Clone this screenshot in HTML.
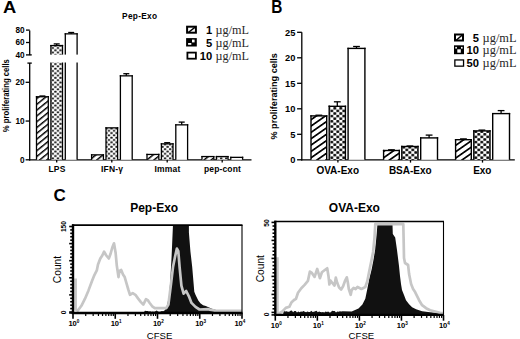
<!DOCTYPE html><html><head><meta charset="utf-8"><style>html,body{margin:0;padding:0;background:#fff;overflow:hidden;}svg{display:block;}</style></head><body>
<svg width="520" height="339" viewBox="0 0 520 339">
<defs>
<pattern id="hA" patternUnits="userSpaceOnUse" width="4.5" height="4.5" patternTransform="rotate(-39)"><rect width="4.5" height="4.5" fill="#fff"/><rect x="0" y="0" width="4.5" height="1.45" fill="#000"/></pattern>
<pattern id="hB" patternUnits="userSpaceOnUse" width="5.2" height="5.2" patternTransform="rotate(-35)"><rect width="5.2" height="5.2" fill="#fff"/><rect x="0" y="0" width="5.2" height="1.7" fill="#000"/></pattern>
<pattern id="ck" patternUnits="userSpaceOnUse" width="5.1" height="4.6" x="0.6" y="0.8"><rect width="5.1" height="4.6" fill="#fff"/><rect x="0.1" y="0.15" width="2.3" height="2.0" rx="0.6" fill="#111"/><rect x="2.65" y="2.45" width="2.3" height="2.0" rx="0.6" fill="#111"/></pattern>
<pattern id="ckB" patternUnits="userSpaceOnUse" width="6.0" height="5.2" x="0.3" y="0.4"><rect width="6.0" height="5.2" fill="#fff"/><rect x="0.05" y="0.1" width="2.9" height="2.45" rx="0.8" fill="#0a0a0a"/><rect x="3.05" y="2.7" width="2.9" height="2.45" rx="0.8" fill="#0a0a0a"/></pattern>
</defs>
<rect width="520" height="339" fill="#fff"/>
<text transform="translate(2.9,13.1) scale(1.08,1)" font-family='"Liberation Sans", sans-serif' font-size="17" font-weight="bold">A</text>
<text x="139.70" y="19.40" font-family='"Liberation Sans", sans-serif' font-size="8.3" font-weight="bold" text-anchor="middle" letter-spacing="0.3">Pep-Exo</text>
<line x1="29.70" y1="30.40" x2="29.70" y2="55.20" stroke="#000" stroke-width="1.3"/>
<line x1="29.70" y1="63.10" x2="29.70" y2="160.40" stroke="#000" stroke-width="1.3"/>
<line x1="26.00" y1="30.10" x2="29.70" y2="30.10" stroke="#000" stroke-width="1.3"/>
<text x="24.60" y="33.00" font-family='"Liberation Sans", sans-serif' font-size="8.2" font-weight="bold" text-anchor="end" >80</text>
<line x1="26.00" y1="42.50" x2="29.70" y2="42.50" stroke="#000" stroke-width="1.3"/>
<text x="24.60" y="45.40" font-family='"Liberation Sans", sans-serif' font-size="8.2" font-weight="bold" text-anchor="end" >60</text>
<line x1="26.00" y1="54.90" x2="29.70" y2="54.90" stroke="#000" stroke-width="1.3"/>
<text x="24.60" y="57.80" font-family='"Liberation Sans", sans-serif' font-size="8.2" font-weight="bold" text-anchor="end" >40</text>
<line x1="29.70" y1="54.90" x2="31.80" y2="54.90" stroke="#000" stroke-width="1.3"/>
<line x1="27.40" y1="63.10" x2="31.80" y2="63.10" stroke="#000" stroke-width="1.3"/>
<line x1="25.60" y1="82.30" x2="29.70" y2="82.30" stroke="#000" stroke-width="1.3"/>
<text x="24.60" y="85.20" font-family='"Liberation Sans", sans-serif' font-size="8.2" font-weight="bold" text-anchor="end" >20</text>
<line x1="25.60" y1="121.05" x2="29.70" y2="121.05" stroke="#000" stroke-width="1.3"/>
<text x="24.60" y="123.95" font-family='"Liberation Sans", sans-serif' font-size="8.2" font-weight="bold" text-anchor="end" >10</text>
<line x1="25.60" y1="159.80" x2="29.70" y2="159.80" stroke="#000" stroke-width="1.3"/>
<text x="24.60" y="162.70" font-family='"Liberation Sans", sans-serif' font-size="8.2" font-weight="bold" text-anchor="end" >0</text>
<line x1="29.10" y1="159.80" x2="251.50" y2="159.80" stroke="#000" stroke-width="1.3"/>
<line x1="56.70" y1="159.80" x2="56.70" y2="162.60" stroke="#000" stroke-width="1.3"/>
<text x="57.00" y="171.70" font-family='"Liberation Sans", sans-serif' font-size="8.5" font-weight="bold" text-anchor="middle" letter-spacing="0.15">LPS</text>
<rect x="36.50" y="96.75" width="11.80" height="63.05" fill="url(#hA)" stroke="none"/>
<line x1="36.50" y1="96.10" x2="36.50" y2="159.80" stroke="#000" stroke-width="1.3"/>
<line x1="48.30" y1="96.10" x2="48.30" y2="159.80" stroke="#000" stroke-width="1.3"/>
<line x1="35.85" y1="96.75" x2="48.95" y2="96.75" stroke="#000" stroke-width="1.3"/>
<line x1="42.40" y1="96.00" x2="42.40" y2="96.75" stroke="#000" stroke-width="1.3"/>
<line x1="39.40" y1="96.00" x2="45.40" y2="96.00" stroke="#000" stroke-width="1.3"/>
<rect x="50.90" y="45.55" width="11.60" height="114.25" fill="url(#ck)" stroke="none"/>
<line x1="50.90" y1="44.90" x2="50.90" y2="159.80" stroke="#000" stroke-width="1.3"/>
<line x1="62.50" y1="44.90" x2="62.50" y2="159.80" stroke="#000" stroke-width="1.3"/>
<line x1="50.25" y1="45.55" x2="63.15" y2="45.55" stroke="#000" stroke-width="1.3"/>
<line x1="56.70" y1="43.90" x2="56.70" y2="45.55" stroke="#000" stroke-width="1.3"/>
<line x1="53.70" y1="43.90" x2="59.70" y2="43.90" stroke="#000" stroke-width="1.3"/>
<rect x="65.30" y="33.85" width="11.80" height="125.95" fill="#fff" stroke="none"/>
<line x1="65.30" y1="33.20" x2="65.30" y2="159.80" stroke="#000" stroke-width="1.3"/>
<line x1="77.10" y1="33.20" x2="77.10" y2="159.80" stroke="#000" stroke-width="1.3"/>
<line x1="64.65" y1="33.85" x2="77.75" y2="33.85" stroke="#000" stroke-width="1.3"/>
<line x1="71.20" y1="32.50" x2="71.20" y2="33.85" stroke="#000" stroke-width="1.3"/>
<line x1="68.20" y1="32.50" x2="74.20" y2="32.50" stroke="#000" stroke-width="1.3"/>
<line x1="111.80" y1="159.80" x2="111.80" y2="162.60" stroke="#000" stroke-width="1.3"/>
<text x="112.10" y="171.70" font-family='"Liberation Sans", sans-serif' font-size="8.5" font-weight="bold" text-anchor="middle" letter-spacing="0.15">IFN-&#947;</text>
<rect x="91.60" y="154.85" width="11.80" height="4.95" fill="url(#hA)" stroke="none"/>
<line x1="91.60" y1="154.20" x2="91.60" y2="159.80" stroke="#000" stroke-width="1.3"/>
<line x1="103.40" y1="154.20" x2="103.40" y2="159.80" stroke="#000" stroke-width="1.3"/>
<line x1="90.95" y1="154.85" x2="104.05" y2="154.85" stroke="#000" stroke-width="1.3"/>
<rect x="106.00" y="127.85" width="11.60" height="31.95" fill="url(#ck)" stroke="none"/>
<line x1="106.00" y1="127.20" x2="106.00" y2="159.80" stroke="#000" stroke-width="1.3"/>
<line x1="117.60" y1="127.20" x2="117.60" y2="159.80" stroke="#000" stroke-width="1.3"/>
<line x1="105.35" y1="127.85" x2="118.25" y2="127.85" stroke="#000" stroke-width="1.3"/>
<rect x="120.40" y="75.85" width="11.80" height="83.95" fill="#fff" stroke="none"/>
<line x1="120.40" y1="75.20" x2="120.40" y2="159.80" stroke="#000" stroke-width="1.3"/>
<line x1="132.20" y1="75.20" x2="132.20" y2="159.80" stroke="#000" stroke-width="1.3"/>
<line x1="119.75" y1="75.85" x2="132.85" y2="75.85" stroke="#000" stroke-width="1.3"/>
<line x1="126.30" y1="73.70" x2="126.30" y2="75.85" stroke="#000" stroke-width="1.3"/>
<line x1="123.30" y1="73.70" x2="129.30" y2="73.70" stroke="#000" stroke-width="1.3"/>
<line x1="167.20" y1="159.80" x2="167.20" y2="162.60" stroke="#000" stroke-width="1.3"/>
<text x="167.50" y="171.70" font-family='"Liberation Sans", sans-serif' font-size="8.5" font-weight="bold" text-anchor="middle" letter-spacing="0.15">Immat</text>
<rect x="147.00" y="154.45" width="11.80" height="5.35" fill="url(#hA)" stroke="none"/>
<line x1="147.00" y1="153.80" x2="147.00" y2="159.80" stroke="#000" stroke-width="1.3"/>
<line x1="158.80" y1="153.80" x2="158.80" y2="159.80" stroke="#000" stroke-width="1.3"/>
<line x1="146.35" y1="154.45" x2="159.45" y2="154.45" stroke="#000" stroke-width="1.3"/>
<rect x="161.40" y="143.85" width="11.60" height="15.95" fill="url(#ck)" stroke="none"/>
<line x1="161.40" y1="143.20" x2="161.40" y2="159.80" stroke="#000" stroke-width="1.3"/>
<line x1="173.00" y1="143.20" x2="173.00" y2="159.80" stroke="#000" stroke-width="1.3"/>
<line x1="160.75" y1="143.85" x2="173.65" y2="143.85" stroke="#000" stroke-width="1.3"/>
<line x1="167.20" y1="142.70" x2="167.20" y2="143.85" stroke="#000" stroke-width="1.3"/>
<line x1="164.20" y1="142.70" x2="170.20" y2="142.70" stroke="#000" stroke-width="1.3"/>
<rect x="175.80" y="124.85" width="11.80" height="34.95" fill="#fff" stroke="none"/>
<line x1="175.80" y1="124.20" x2="175.80" y2="159.80" stroke="#000" stroke-width="1.3"/>
<line x1="187.60" y1="124.20" x2="187.60" y2="159.80" stroke="#000" stroke-width="1.3"/>
<line x1="175.15" y1="124.85" x2="188.25" y2="124.85" stroke="#000" stroke-width="1.3"/>
<line x1="181.70" y1="122.10" x2="181.70" y2="124.85" stroke="#000" stroke-width="1.3"/>
<line x1="178.70" y1="122.10" x2="184.70" y2="122.10" stroke="#000" stroke-width="1.3"/>
<line x1="222.20" y1="159.80" x2="222.20" y2="162.60" stroke="#000" stroke-width="1.3"/>
<text x="222.50" y="171.70" font-family='"Liberation Sans", sans-serif' font-size="8.5" font-weight="bold" text-anchor="middle" letter-spacing="0.15">pep-cont</text>
<rect x="202.00" y="156.55" width="11.80" height="3.25" fill="url(#hA)" stroke="none"/>
<line x1="202.00" y1="155.90" x2="202.00" y2="159.80" stroke="#000" stroke-width="1.3"/>
<line x1="213.80" y1="155.90" x2="213.80" y2="159.80" stroke="#000" stroke-width="1.3"/>
<line x1="201.35" y1="156.55" x2="214.45" y2="156.55" stroke="#000" stroke-width="1.3"/>
<rect x="216.40" y="156.55" width="11.60" height="3.25" fill="url(#ck)" stroke="none"/>
<line x1="216.40" y1="155.90" x2="216.40" y2="159.80" stroke="#000" stroke-width="1.3"/>
<line x1="228.00" y1="155.90" x2="228.00" y2="159.80" stroke="#000" stroke-width="1.3"/>
<line x1="215.75" y1="156.55" x2="228.65" y2="156.55" stroke="#000" stroke-width="1.3"/>
<rect x="230.80" y="157.35" width="11.80" height="2.45" fill="#fff" stroke="none"/>
<line x1="230.80" y1="156.70" x2="230.80" y2="159.80" stroke="#000" stroke-width="1.3"/>
<line x1="242.60" y1="156.70" x2="242.60" y2="159.80" stroke="#000" stroke-width="1.3"/>
<line x1="230.15" y1="157.35" x2="243.25" y2="157.35" stroke="#000" stroke-width="1.3"/>
<rect x="31.9" y="54.6" width="48" height="7.9" fill="#fff"/>
<pattern id="lgH" patternUnits="userSpaceOnUse" width="20" height="20"><rect width="20" height="20" fill="#fff"/></pattern>
<rect x="187.10" y="26.70" width="8.80" height="6.00" fill="#fff" stroke="#000" stroke-width="2"/>
<line x1="188.30" y1="32.50" x2="195.20" y2="27.20" stroke="#000" stroke-width="1.5"/>
<rect x="186.10" y="38.10" width="10.70" height="8.40" fill="#000"/>
<rect x="192.00" y="39.60" width="2.60" height="2.80" fill="#fff"/>
<rect x="188.10" y="43.00" width="3.20" height="1.80" fill="#fff"/>
<rect x="187.40" y="52.60" width="8.50" height="6.10" fill="#fff" stroke="#000" stroke-width="1.8"/>
<text x="212.20" y="34.10" font-family='"Liberation Sans", sans-serif' font-size="11.2" font-weight="bold" text-anchor="end" >1</text>
<text x="215.60" y="34.20" font-family='"Liberation Serif", serif' font-size="12.2" font-weight="normal" text-anchor="start" fill="#262626">&#181;g/mL</text>
<text x="212.20" y="46.60" font-family='"Liberation Sans", sans-serif' font-size="11.2" font-weight="bold" text-anchor="end" >5</text>
<text x="215.60" y="46.70" font-family='"Liberation Serif", serif' font-size="12.2" font-weight="normal" text-anchor="start" fill="#262626">&#181;g/mL</text>
<text x="212.20" y="59.80" font-family='"Liberation Sans", sans-serif' font-size="11.2" font-weight="bold" text-anchor="end" >10</text>
<text x="215.60" y="59.90" font-family='"Liberation Serif", serif' font-size="12.2" font-weight="normal" text-anchor="start" fill="#262626">&#181;g/mL</text>
<text transform="translate(271.3,12.5) scale(0.88,1)" font-family='"Liberation Sans", sans-serif' font-size="17.5" font-weight="bold">B</text>
<line x1="301.80" y1="32.20" x2="301.80" y2="160.40" stroke="#000" stroke-width="1.3"/>
<line x1="297.10" y1="32.30" x2="301.80" y2="32.30" stroke="#000" stroke-width="1.3"/>
<text x="295.40" y="35.50" font-family='"Liberation Sans", sans-serif' font-size="9.3" font-weight="bold" text-anchor="end" >25</text>
<line x1="297.10" y1="57.80" x2="301.80" y2="57.80" stroke="#000" stroke-width="1.3"/>
<text x="295.40" y="61.00" font-family='"Liberation Sans", sans-serif' font-size="9.3" font-weight="bold" text-anchor="end" >20</text>
<line x1="297.10" y1="83.30" x2="301.80" y2="83.30" stroke="#000" stroke-width="1.3"/>
<text x="295.40" y="86.50" font-family='"Liberation Sans", sans-serif' font-size="9.3" font-weight="bold" text-anchor="end" >15</text>
<line x1="297.10" y1="108.80" x2="301.80" y2="108.80" stroke="#000" stroke-width="1.3"/>
<text x="295.40" y="112.00" font-family='"Liberation Sans", sans-serif' font-size="9.3" font-weight="bold" text-anchor="end" >10</text>
<line x1="297.10" y1="134.30" x2="301.80" y2="134.30" stroke="#000" stroke-width="1.3"/>
<text x="295.40" y="137.50" font-family='"Liberation Sans", sans-serif' font-size="9.3" font-weight="bold" text-anchor="end" >5</text>
<line x1="297.10" y1="159.80" x2="301.80" y2="159.80" stroke="#000" stroke-width="1.3"/>
<text x="295.40" y="163.00" font-family='"Liberation Sans", sans-serif' font-size="9.3" font-weight="bold" text-anchor="end" >0</text>
<line x1="301.20" y1="159.80" x2="514.80" y2="159.80" stroke="#000" stroke-width="1.3"/>
<line x1="337.90" y1="159.80" x2="337.90" y2="162.60" stroke="#000" stroke-width="1.3"/>
<text x="337.70" y="173.60" font-family='"Liberation Sans", sans-serif' font-size="10" font-weight="bold" text-anchor="middle" >OVA-Exo</text>
<rect x="311.00" y="115.90" width="15.70" height="43.90" fill="url(#hB)" stroke="none"/>
<line x1="311.00" y1="115.20" x2="311.00" y2="159.80" stroke="#000" stroke-width="1.4"/>
<line x1="326.70" y1="115.20" x2="326.70" y2="159.80" stroke="#000" stroke-width="1.4"/>
<line x1="310.30" y1="115.90" x2="327.40" y2="115.90" stroke="#000" stroke-width="1.4"/>
<line x1="318.85" y1="115.20" x2="318.85" y2="115.90" stroke="#000" stroke-width="1.3"/>
<line x1="315.45" y1="115.20" x2="322.25" y2="115.20" stroke="#000" stroke-width="1.3"/>
<rect x="329.20" y="106.30" width="16.20" height="53.50" fill="url(#ckB)" stroke="none"/>
<line x1="329.20" y1="105.60" x2="329.20" y2="159.80" stroke="#000" stroke-width="1.4"/>
<line x1="345.40" y1="105.60" x2="345.40" y2="159.80" stroke="#000" stroke-width="1.4"/>
<line x1="328.50" y1="106.30" x2="346.10" y2="106.30" stroke="#000" stroke-width="1.4"/>
<line x1="337.30" y1="101.80" x2="337.30" y2="106.30" stroke="#000" stroke-width="1.3"/>
<line x1="333.90" y1="101.80" x2="340.70" y2="101.80" stroke="#000" stroke-width="1.3"/>
<rect x="348.10" y="48.40" width="16.80" height="111.40" fill="#fff" stroke="none"/>
<line x1="348.10" y1="47.70" x2="348.10" y2="159.80" stroke="#000" stroke-width="1.4"/>
<line x1="364.90" y1="47.70" x2="364.90" y2="159.80" stroke="#000" stroke-width="1.4"/>
<line x1="347.40" y1="48.40" x2="365.60" y2="48.40" stroke="#000" stroke-width="1.4"/>
<line x1="356.50" y1="46.50" x2="356.50" y2="48.40" stroke="#000" stroke-width="1.3"/>
<line x1="353.10" y1="46.50" x2="359.90" y2="46.50" stroke="#000" stroke-width="1.3"/>
<line x1="410.50" y1="159.80" x2="410.50" y2="162.60" stroke="#000" stroke-width="1.3"/>
<text x="410.30" y="173.60" font-family='"Liberation Sans", sans-serif' font-size="10" font-weight="bold" text-anchor="middle" >BSA-Exo</text>
<rect x="383.60" y="150.50" width="15.70" height="9.30" fill="url(#hB)" stroke="none"/>
<line x1="383.60" y1="149.80" x2="383.60" y2="159.80" stroke="#000" stroke-width="1.4"/>
<line x1="399.30" y1="149.80" x2="399.30" y2="159.80" stroke="#000" stroke-width="1.4"/>
<line x1="382.90" y1="150.50" x2="400.00" y2="150.50" stroke="#000" stroke-width="1.4"/>
<line x1="391.45" y1="149.80" x2="391.45" y2="150.50" stroke="#000" stroke-width="1.3"/>
<line x1="388.05" y1="149.80" x2="394.85" y2="149.80" stroke="#000" stroke-width="1.3"/>
<rect x="401.80" y="146.50" width="16.20" height="13.30" fill="url(#ckB)" stroke="none"/>
<line x1="401.80" y1="145.80" x2="401.80" y2="159.80" stroke="#000" stroke-width="1.4"/>
<line x1="418.00" y1="145.80" x2="418.00" y2="159.80" stroke="#000" stroke-width="1.4"/>
<line x1="401.10" y1="146.50" x2="418.70" y2="146.50" stroke="#000" stroke-width="1.4"/>
<line x1="409.90" y1="146.00" x2="409.90" y2="146.50" stroke="#000" stroke-width="1.3"/>
<line x1="406.50" y1="146.00" x2="413.30" y2="146.00" stroke="#000" stroke-width="1.3"/>
<rect x="420.70" y="137.90" width="16.80" height="21.90" fill="#fff" stroke="none"/>
<line x1="420.70" y1="137.20" x2="420.70" y2="159.80" stroke="#000" stroke-width="1.4"/>
<line x1="437.50" y1="137.20" x2="437.50" y2="159.80" stroke="#000" stroke-width="1.4"/>
<line x1="420.00" y1="137.90" x2="438.20" y2="137.90" stroke="#000" stroke-width="1.4"/>
<line x1="429.10" y1="135.10" x2="429.10" y2="137.90" stroke="#000" stroke-width="1.3"/>
<line x1="425.70" y1="135.10" x2="432.50" y2="135.10" stroke="#000" stroke-width="1.3"/>
<line x1="482.50" y1="159.80" x2="482.50" y2="162.60" stroke="#000" stroke-width="1.3"/>
<text x="482.30" y="173.60" font-family='"Liberation Sans", sans-serif' font-size="10" font-weight="bold" text-anchor="middle" >Exo</text>
<rect x="455.60" y="139.70" width="15.70" height="20.10" fill="url(#hB)" stroke="none"/>
<line x1="455.60" y1="139.00" x2="455.60" y2="159.80" stroke="#000" stroke-width="1.4"/>
<line x1="471.30" y1="139.00" x2="471.30" y2="159.80" stroke="#000" stroke-width="1.4"/>
<line x1="454.90" y1="139.70" x2="472.00" y2="139.70" stroke="#000" stroke-width="1.4"/>
<line x1="463.45" y1="138.90" x2="463.45" y2="139.70" stroke="#000" stroke-width="1.3"/>
<line x1="460.05" y1="138.90" x2="466.85" y2="138.90" stroke="#000" stroke-width="1.3"/>
<rect x="473.80" y="130.90" width="16.20" height="28.90" fill="url(#ckB)" stroke="none"/>
<line x1="473.80" y1="130.20" x2="473.80" y2="159.80" stroke="#000" stroke-width="1.4"/>
<line x1="490.00" y1="130.20" x2="490.00" y2="159.80" stroke="#000" stroke-width="1.4"/>
<line x1="473.10" y1="130.90" x2="490.70" y2="130.90" stroke="#000" stroke-width="1.4"/>
<line x1="481.90" y1="130.10" x2="481.90" y2="130.90" stroke="#000" stroke-width="1.3"/>
<line x1="478.50" y1="130.10" x2="485.30" y2="130.10" stroke="#000" stroke-width="1.3"/>
<rect x="492.70" y="113.60" width="16.80" height="46.20" fill="#fff" stroke="none"/>
<line x1="492.70" y1="112.90" x2="492.70" y2="159.80" stroke="#000" stroke-width="1.4"/>
<line x1="509.50" y1="112.90" x2="509.50" y2="159.80" stroke="#000" stroke-width="1.4"/>
<line x1="492.00" y1="113.60" x2="510.20" y2="113.60" stroke="#000" stroke-width="1.4"/>
<line x1="501.10" y1="110.60" x2="501.10" y2="113.60" stroke="#000" stroke-width="1.3"/>
<line x1="497.70" y1="110.60" x2="504.50" y2="110.60" stroke="#000" stroke-width="1.3"/>
<rect x="455.00" y="34.50" width="8.00" height="6.00" fill="#fff" stroke="#000" stroke-width="2"/>
<line x1="456.20" y1="40.30" x2="462.30" y2="35.00" stroke="#000" stroke-width="1.5"/>
<rect x="454.00" y="45.30" width="10.00" height="8.90" fill="#000"/>
<rect x="455.30" y="46.90" width="1.60" height="1.70" fill="#fff"/>
<rect x="461.00" y="46.90" width="1.60" height="1.70" fill="#fff"/>
<rect x="457.30" y="49.30" width="3.50" height="3.40" fill="#fff"/>
<rect x="454.85" y="59.95" width="8.70" height="6.20" fill="#fff" stroke="#000" stroke-width="1.3"/>
<text x="479.00" y="41.70" font-family='"Liberation Sans", sans-serif' font-size="11.2" font-weight="bold" text-anchor="end" >5</text>
<text x="482.60" y="41.80" font-family='"Liberation Serif", serif' font-size="12.4" font-weight="normal" text-anchor="start" fill="#262626">&#181;g/mL</text>
<text x="479.00" y="54.10" font-family='"Liberation Sans", sans-serif' font-size="11.2" font-weight="bold" text-anchor="end" >10</text>
<text x="482.60" y="54.20" font-family='"Liberation Serif", serif' font-size="12.4" font-weight="normal" text-anchor="start" fill="#262626">&#181;g/mL</text>
<text x="479.00" y="67.20" font-family='"Liberation Sans", sans-serif' font-size="11.2" font-weight="bold" text-anchor="end" >50</text>
<text x="482.60" y="67.30" font-family='"Liberation Serif", serif' font-size="12.4" font-weight="normal" text-anchor="start" fill="#262626">&#181;g/mL</text>
<text x="53.40" y="201.00" font-family='"Liberation Sans", sans-serif' font-size="17" font-weight="bold" text-anchor="start" >C</text>
<clipPath id="cp73"><rect x="73.0" y="225.1" width="169.0" height="87.9"/></clipPath>
<g clip-path="url(#cp73)">
<polygon points="144.0,312.5 144.5,311.2 145.0,310.8 146.3,311.1 147.6,311.1 148.9,311.6 150.2,311.3 151.5,311.7 152.8,311.6 154.1,311.8 155.4,311.3 156.7,310.5 158.0,311.6 159.3,311.7 160.6,311.6 161.9,311.1 163.2,311.3 164.5,310.5 166.3,308.5 169.0,296.3 170.3,280.4 171.6,256.5 172.4,237.9 173.0,224.5 173.0,222.0 188.9,222.0 188.9,232.6 190.4,251.2 192.2,267.1 193.6,283.6 194.3,291.7 195.6,295.1 198.3,300.5 200.4,303.2 203.1,305.3 205.8,306.0 208.5,307.3 211.9,308.7 216.0,310.0 224.4,310.2 232.0,311.2 242.0,311.5 242.0,312.5" fill="#111"/>
<polyline points="75.6,278.6 75.6,309.3 77.9,310.5 81.4,305.8 85.0,298.7 88.5,290.4 92.0,281.0 94.4,275.1 96.8,270.4 98.0,264.5 100.3,258.6 102.3,255.5 104.1,251.7 106.3,255.5 108.8,258.5 110.5,254.0 112.3,247.5 114.0,243.3 115.6,252.7 116.8,265.6 118.5,277.1 119.4,270.9 121.2,270.0 123.0,274.5 124.7,277.1 126.5,283.3 128.3,289.5 130.0,294.8 132.7,293.1 135.4,294.8 138.0,298.4 140.7,301.9 143.3,304.6 146.0,299.2 147.7,300.1 149.5,302.8 152.2,306.3 154.8,308.1 166.3,308.1 168.4,304.5 170.8,285.7 173.0,267.1 175.1,256.5 176.9,248.5 178.3,251.2 179.6,267.1 181.4,285.7 183.6,293.6 186.2,291.0 188.9,296.3 191.5,302.9 195.5,306.9 199.5,309.5 207.6,309.2 216.0,310.8 242.0,310.8" fill="none" stroke="#c6c6c6" stroke-width="2.7" stroke-linejoin="round"/>
</g>
<line x1="72.00" y1="225.10" x2="242.50" y2="225.10" stroke="#000" stroke-width="1.6"/>
<line x1="242.00" y1="225.10" x2="242.00" y2="313.00" stroke="#000" stroke-width="1.1"/>
<line x1="73.00" y1="224.30" x2="73.00" y2="314.00" stroke="#000" stroke-width="2.4"/>
<line x1="71.80" y1="313.00" x2="242.50" y2="313.00" stroke="#000" stroke-width="2.3"/>
<line x1="69.20" y1="226.50" x2="73.00" y2="226.50" stroke="#000" stroke-width="1.6"/>
<line x1="70.20" y1="229.92" x2="73.00" y2="229.92" stroke="#000" stroke-width="1.6"/>
<line x1="70.20" y1="233.34" x2="73.00" y2="233.34" stroke="#000" stroke-width="1.6"/>
<line x1="70.20" y1="236.76" x2="73.00" y2="236.76" stroke="#000" stroke-width="1.6"/>
<line x1="70.20" y1="240.18" x2="73.00" y2="240.18" stroke="#000" stroke-width="1.6"/>
<line x1="69.20" y1="243.60" x2="73.00" y2="243.60" stroke="#000" stroke-width="1.6"/>
<line x1="70.20" y1="247.02" x2="73.00" y2="247.02" stroke="#000" stroke-width="1.6"/>
<line x1="70.20" y1="250.44" x2="73.00" y2="250.44" stroke="#000" stroke-width="1.6"/>
<line x1="70.20" y1="253.86" x2="73.00" y2="253.86" stroke="#000" stroke-width="1.6"/>
<line x1="70.20" y1="257.28" x2="73.00" y2="257.28" stroke="#000" stroke-width="1.6"/>
<line x1="69.20" y1="260.70" x2="73.00" y2="260.70" stroke="#000" stroke-width="1.6"/>
<line x1="70.20" y1="264.12" x2="73.00" y2="264.12" stroke="#000" stroke-width="1.6"/>
<line x1="70.20" y1="267.54" x2="73.00" y2="267.54" stroke="#000" stroke-width="1.6"/>
<line x1="70.20" y1="270.96" x2="73.00" y2="270.96" stroke="#000" stroke-width="1.6"/>
<line x1="70.20" y1="274.38" x2="73.00" y2="274.38" stroke="#000" stroke-width="1.6"/>
<line x1="69.20" y1="277.80" x2="73.00" y2="277.80" stroke="#000" stroke-width="1.6"/>
<line x1="70.20" y1="281.22" x2="73.00" y2="281.22" stroke="#000" stroke-width="1.6"/>
<line x1="70.20" y1="284.64" x2="73.00" y2="284.64" stroke="#000" stroke-width="1.6"/>
<line x1="70.20" y1="288.06" x2="73.00" y2="288.06" stroke="#000" stroke-width="1.6"/>
<line x1="70.20" y1="291.48" x2="73.00" y2="291.48" stroke="#000" stroke-width="1.6"/>
<line x1="69.20" y1="294.90" x2="73.00" y2="294.90" stroke="#000" stroke-width="1.6"/>
<line x1="70.20" y1="298.32" x2="73.00" y2="298.32" stroke="#000" stroke-width="1.6"/>
<line x1="70.20" y1="301.74" x2="73.00" y2="301.74" stroke="#000" stroke-width="1.6"/>
<line x1="70.20" y1="305.16" x2="73.00" y2="305.16" stroke="#000" stroke-width="1.6"/>
<line x1="70.20" y1="308.58" x2="73.00" y2="308.58" stroke="#000" stroke-width="1.6"/>
<line x1="69.20" y1="312.00" x2="73.00" y2="312.00" stroke="#000" stroke-width="1.6"/>
<line x1="69.20" y1="313.00" x2="73.00" y2="313.00" stroke="#000" stroke-width="1.6"/>
<line x1="73.00" y1="313.00" x2="73.00" y2="318.80" stroke="#000" stroke-width="1.6"/>
<line x1="85.72" y1="313.00" x2="85.72" y2="316.00" stroke="#000" stroke-width="1.2"/>
<line x1="93.16" y1="313.00" x2="93.16" y2="316.00" stroke="#000" stroke-width="1.2"/>
<line x1="98.44" y1="313.00" x2="98.44" y2="316.00" stroke="#000" stroke-width="1.2"/>
<line x1="102.53" y1="313.00" x2="102.53" y2="316.00" stroke="#000" stroke-width="1.2"/>
<line x1="105.88" y1="313.00" x2="105.88" y2="316.00" stroke="#000" stroke-width="1.2"/>
<line x1="108.71" y1="313.00" x2="108.71" y2="316.00" stroke="#000" stroke-width="1.2"/>
<line x1="111.16" y1="313.00" x2="111.16" y2="316.00" stroke="#000" stroke-width="1.2"/>
<line x1="113.32" y1="313.00" x2="113.32" y2="316.00" stroke="#000" stroke-width="1.2"/>
<line x1="115.25" y1="313.00" x2="115.25" y2="318.80" stroke="#000" stroke-width="1.6"/>
<line x1="127.97" y1="313.00" x2="127.97" y2="316.00" stroke="#000" stroke-width="1.2"/>
<line x1="135.41" y1="313.00" x2="135.41" y2="316.00" stroke="#000" stroke-width="1.2"/>
<line x1="140.69" y1="313.00" x2="140.69" y2="316.00" stroke="#000" stroke-width="1.2"/>
<line x1="144.78" y1="313.00" x2="144.78" y2="316.00" stroke="#000" stroke-width="1.2"/>
<line x1="148.13" y1="313.00" x2="148.13" y2="316.00" stroke="#000" stroke-width="1.2"/>
<line x1="150.96" y1="313.00" x2="150.96" y2="316.00" stroke="#000" stroke-width="1.2"/>
<line x1="153.41" y1="313.00" x2="153.41" y2="316.00" stroke="#000" stroke-width="1.2"/>
<line x1="155.57" y1="313.00" x2="155.57" y2="316.00" stroke="#000" stroke-width="1.2"/>
<line x1="157.50" y1="313.00" x2="157.50" y2="318.80" stroke="#000" stroke-width="1.6"/>
<line x1="170.22" y1="313.00" x2="170.22" y2="316.00" stroke="#000" stroke-width="1.2"/>
<line x1="177.66" y1="313.00" x2="177.66" y2="316.00" stroke="#000" stroke-width="1.2"/>
<line x1="182.94" y1="313.00" x2="182.94" y2="316.00" stroke="#000" stroke-width="1.2"/>
<line x1="187.03" y1="313.00" x2="187.03" y2="316.00" stroke="#000" stroke-width="1.2"/>
<line x1="190.38" y1="313.00" x2="190.38" y2="316.00" stroke="#000" stroke-width="1.2"/>
<line x1="193.21" y1="313.00" x2="193.21" y2="316.00" stroke="#000" stroke-width="1.2"/>
<line x1="195.66" y1="313.00" x2="195.66" y2="316.00" stroke="#000" stroke-width="1.2"/>
<line x1="197.82" y1="313.00" x2="197.82" y2="316.00" stroke="#000" stroke-width="1.2"/>
<line x1="199.75" y1="313.00" x2="199.75" y2="318.80" stroke="#000" stroke-width="1.6"/>
<line x1="212.47" y1="313.00" x2="212.47" y2="316.00" stroke="#000" stroke-width="1.2"/>
<line x1="219.91" y1="313.00" x2="219.91" y2="316.00" stroke="#000" stroke-width="1.2"/>
<line x1="225.19" y1="313.00" x2="225.19" y2="316.00" stroke="#000" stroke-width="1.2"/>
<line x1="229.28" y1="313.00" x2="229.28" y2="316.00" stroke="#000" stroke-width="1.2"/>
<line x1="232.63" y1="313.00" x2="232.63" y2="316.00" stroke="#000" stroke-width="1.2"/>
<line x1="235.46" y1="313.00" x2="235.46" y2="316.00" stroke="#000" stroke-width="1.2"/>
<line x1="237.91" y1="313.00" x2="237.91" y2="316.00" stroke="#000" stroke-width="1.2"/>
<line x1="240.07" y1="313.00" x2="240.07" y2="316.00" stroke="#000" stroke-width="1.2"/>
<line x1="242.00" y1="313.00" x2="242.00" y2="318.80" stroke="#000" stroke-width="1.6"/>
<text x="68.40" y="325.90" font-family='"Liberation Sans", sans-serif' font-size="7.6" font-weight="bold" text-anchor="start">10<tspan font-size="4.6" dy="-2.8">0</tspan></text>
<text x="110.65" y="325.90" font-family='"Liberation Sans", sans-serif' font-size="7.6" font-weight="bold" text-anchor="start">10<tspan font-size="4.6" dy="-2.8">1</tspan></text>
<text x="152.90" y="325.90" font-family='"Liberation Sans", sans-serif' font-size="7.6" font-weight="bold" text-anchor="start">10<tspan font-size="4.6" dy="-2.8">2</tspan></text>
<text x="195.15" y="325.90" font-family='"Liberation Sans", sans-serif' font-size="7.6" font-weight="bold" text-anchor="start">10<tspan font-size="4.6" dy="-2.8">3</tspan></text>
<text x="234.40" y="325.90" font-family='"Liberation Sans", sans-serif' font-size="7.6" font-weight="bold" text-anchor="start">10<tspan font-size="4.6" dy="-2.8">4</tspan></text>
<text x="130.20" y="211.90" font-family='"Liberation Sans", sans-serif' font-size="12" font-weight="bold" text-anchor="start" >Pep-Exo</text>
<text transform="translate(65.80,226.60) rotate(-90)" font-family='"Liberation Sans", sans-serif' font-size="6.6" font-weight="bold" text-anchor="middle">150</text>
<text transform="translate(65.80,312.40) rotate(-90)" font-family='"Liberation Sans", sans-serif' font-size="6.6" font-weight="bold" text-anchor="middle">0</text>
<text transform="translate(61.40,269.55) rotate(-90)" font-family='"Liberation Sans", sans-serif' font-size="10.2" text-anchor="middle">Count</text>
<text x="159.50" y="338.60" font-family='"Liberation Sans", sans-serif' font-size="9.6" text-anchor="middle">CFSE</text>
<clipPath id="cp275"><rect x="275.3" y="221.5" width="168.2" height="93.39999999999998"/></clipPath>
<g clip-path="url(#cp275)">
<polygon points="283.0,314.9 283.5,312.0 284.0,311.1 285.3,311.6 286.6,311.3 287.9,311.7 289.2,311.8 290.5,310.7 291.8,310.6 293.1,312.2 294.4,311.1 295.7,311.0 297.0,312.5 298.3,311.5 299.6,312.2 300.9,311.5 302.2,311.8 303.5,310.9 304.8,311.8 306.1,312.2 307.4,311.6 308.7,312.0 310.0,311.9 311.3,310.7 312.6,312.0 313.9,311.7 315.2,311.2 316.5,310.7 317.8,312.2 319.1,311.5 320.4,312.0 321.7,312.3 323.0,312.0 324.3,312.4 325.6,311.4 326.9,312.1 328.2,311.4 329.5,312.4 330.8,312.3 332.1,310.8 333.4,310.9 334.7,311.0 336.0,312.4 337.3,311.4 338.6,311.8 339.9,311.2 341.2,311.6 342.5,311.3 351.7,311.4 358.5,308.5 362.4,304.6 365.3,298.7 367.3,289.0 369.2,279.2 371.6,269.5 373.5,259.7 375.1,250.0 376.6,234.9 377.4,224.6 392.5,224.6 392.8,234.0 395.2,237.5 397.0,250.0 398.0,258.0 399.0,266.0 400.0,276.1 401.0,284.1 402.0,290.1 404.0,295.1 406.0,300.2 409.1,304.2 412.1,307.2 416.1,309.2 422.1,311.2 430.1,312.2 440.2,313.2 444.0,313.5 444.0,314.9" fill="#111"/>
<polyline points="277.4,257.3 277.4,312.5 278.9,313.5 282.4,311.4 285.8,307.9 289.3,306.8 291.6,302.2 294.0,300.0 296.0,298.8 298.0,292.8 301.3,288.2 304.6,284.9 307.9,280.9 309.9,271.6 311.9,272.9 314.6,276.9 317.2,269.0 318.6,273.6 319.9,278.2 321.9,272.3 324.5,270.3 327.2,268.3 328.5,276.2 329.4,284.5 330.5,280.6 332.5,283.2 334.5,285.5 335.8,277.6 337.1,282.6 339.1,287.5 341.1,289.5 343.1,286.2 344.9,281.2 346.8,277.3 347.8,282.2 348.8,289.0 350.7,294.8 351.7,290.0 353.6,288.0 355.6,289.0 357.5,287.0 359.5,288.0 361.4,289.0 363.4,288.0 365.3,287.0 367.3,281.2 369.2,271.4 371.2,261.7 373.1,252.0 374.5,238.0 375.3,224.2 403.3,224.2 403.6,238.0 404.0,258.0 405.0,263.0 408.1,265.0 409.1,274.1 411.1,284.1 413.1,289.1 415.1,292.1 417.1,296.1 419.1,300.2 422.1,305.2 426.1,308.2 430.1,310.2 434.1,311.2 438.1,312.2 441.2,313.2 444.0,313.2" fill="none" stroke="#c6c6c6" stroke-width="2.7" stroke-linejoin="round"/>
</g>
<line x1="274.30" y1="221.50" x2="444.00" y2="221.50" stroke="#000" stroke-width="1.6"/>
<line x1="443.50" y1="221.50" x2="443.50" y2="314.90" stroke="#000" stroke-width="1.1"/>
<line x1="275.30" y1="220.70" x2="275.30" y2="315.90" stroke="#000" stroke-width="2.4"/>
<line x1="274.10" y1="314.90" x2="444.00" y2="314.90" stroke="#000" stroke-width="2.3"/>
<line x1="271.50" y1="222.40" x2="275.30" y2="222.40" stroke="#000" stroke-width="1.6"/>
<line x1="272.50" y1="226.00" x2="275.30" y2="226.00" stroke="#000" stroke-width="1.6"/>
<line x1="272.50" y1="229.60" x2="275.30" y2="229.60" stroke="#000" stroke-width="1.6"/>
<line x1="272.50" y1="233.20" x2="275.30" y2="233.20" stroke="#000" stroke-width="1.6"/>
<line x1="272.50" y1="236.80" x2="275.30" y2="236.80" stroke="#000" stroke-width="1.6"/>
<line x1="271.50" y1="240.40" x2="275.30" y2="240.40" stroke="#000" stroke-width="1.6"/>
<line x1="272.50" y1="244.00" x2="275.30" y2="244.00" stroke="#000" stroke-width="1.6"/>
<line x1="272.50" y1="247.60" x2="275.30" y2="247.60" stroke="#000" stroke-width="1.6"/>
<line x1="272.50" y1="251.20" x2="275.30" y2="251.20" stroke="#000" stroke-width="1.6"/>
<line x1="272.50" y1="254.80" x2="275.30" y2="254.80" stroke="#000" stroke-width="1.6"/>
<line x1="271.50" y1="258.40" x2="275.30" y2="258.40" stroke="#000" stroke-width="1.6"/>
<line x1="272.50" y1="262.00" x2="275.30" y2="262.00" stroke="#000" stroke-width="1.6"/>
<line x1="272.50" y1="265.60" x2="275.30" y2="265.60" stroke="#000" stroke-width="1.6"/>
<line x1="272.50" y1="269.20" x2="275.30" y2="269.20" stroke="#000" stroke-width="1.6"/>
<line x1="272.50" y1="272.80" x2="275.30" y2="272.80" stroke="#000" stroke-width="1.6"/>
<line x1="271.50" y1="276.40" x2="275.30" y2="276.40" stroke="#000" stroke-width="1.6"/>
<line x1="272.50" y1="280.00" x2="275.30" y2="280.00" stroke="#000" stroke-width="1.6"/>
<line x1="272.50" y1="283.60" x2="275.30" y2="283.60" stroke="#000" stroke-width="1.6"/>
<line x1="272.50" y1="287.20" x2="275.30" y2="287.20" stroke="#000" stroke-width="1.6"/>
<line x1="272.50" y1="290.80" x2="275.30" y2="290.80" stroke="#000" stroke-width="1.6"/>
<line x1="271.50" y1="294.40" x2="275.30" y2="294.40" stroke="#000" stroke-width="1.6"/>
<line x1="272.50" y1="298.00" x2="275.30" y2="298.00" stroke="#000" stroke-width="1.6"/>
<line x1="272.50" y1="301.60" x2="275.30" y2="301.60" stroke="#000" stroke-width="1.6"/>
<line x1="272.50" y1="305.20" x2="275.30" y2="305.20" stroke="#000" stroke-width="1.6"/>
<line x1="272.50" y1="308.80" x2="275.30" y2="308.80" stroke="#000" stroke-width="1.6"/>
<line x1="271.50" y1="312.40" x2="275.30" y2="312.40" stroke="#000" stroke-width="1.6"/>
<line x1="271.50" y1="314.90" x2="275.30" y2="314.90" stroke="#000" stroke-width="1.6"/>
<line x1="275.30" y1="314.90" x2="275.30" y2="320.70" stroke="#000" stroke-width="1.6"/>
<line x1="287.96" y1="314.90" x2="287.96" y2="317.90" stroke="#000" stroke-width="1.2"/>
<line x1="295.36" y1="314.90" x2="295.36" y2="317.90" stroke="#000" stroke-width="1.2"/>
<line x1="300.62" y1="314.90" x2="300.62" y2="317.90" stroke="#000" stroke-width="1.2"/>
<line x1="304.69" y1="314.90" x2="304.69" y2="317.90" stroke="#000" stroke-width="1.2"/>
<line x1="308.02" y1="314.90" x2="308.02" y2="317.90" stroke="#000" stroke-width="1.2"/>
<line x1="310.84" y1="314.90" x2="310.84" y2="317.90" stroke="#000" stroke-width="1.2"/>
<line x1="313.27" y1="314.90" x2="313.27" y2="317.90" stroke="#000" stroke-width="1.2"/>
<line x1="315.43" y1="314.90" x2="315.43" y2="317.90" stroke="#000" stroke-width="1.2"/>
<line x1="317.35" y1="314.90" x2="317.35" y2="320.70" stroke="#000" stroke-width="1.6"/>
<line x1="330.01" y1="314.90" x2="330.01" y2="317.90" stroke="#000" stroke-width="1.2"/>
<line x1="337.41" y1="314.90" x2="337.41" y2="317.90" stroke="#000" stroke-width="1.2"/>
<line x1="342.67" y1="314.90" x2="342.67" y2="317.90" stroke="#000" stroke-width="1.2"/>
<line x1="346.74" y1="314.90" x2="346.74" y2="317.90" stroke="#000" stroke-width="1.2"/>
<line x1="350.07" y1="314.90" x2="350.07" y2="317.90" stroke="#000" stroke-width="1.2"/>
<line x1="352.89" y1="314.90" x2="352.89" y2="317.90" stroke="#000" stroke-width="1.2"/>
<line x1="355.32" y1="314.90" x2="355.32" y2="317.90" stroke="#000" stroke-width="1.2"/>
<line x1="357.48" y1="314.90" x2="357.48" y2="317.90" stroke="#000" stroke-width="1.2"/>
<line x1="359.40" y1="314.90" x2="359.40" y2="320.70" stroke="#000" stroke-width="1.6"/>
<line x1="372.06" y1="314.90" x2="372.06" y2="317.90" stroke="#000" stroke-width="1.2"/>
<line x1="379.46" y1="314.90" x2="379.46" y2="317.90" stroke="#000" stroke-width="1.2"/>
<line x1="384.72" y1="314.90" x2="384.72" y2="317.90" stroke="#000" stroke-width="1.2"/>
<line x1="388.79" y1="314.90" x2="388.79" y2="317.90" stroke="#000" stroke-width="1.2"/>
<line x1="392.12" y1="314.90" x2="392.12" y2="317.90" stroke="#000" stroke-width="1.2"/>
<line x1="394.94" y1="314.90" x2="394.94" y2="317.90" stroke="#000" stroke-width="1.2"/>
<line x1="397.37" y1="314.90" x2="397.37" y2="317.90" stroke="#000" stroke-width="1.2"/>
<line x1="399.53" y1="314.90" x2="399.53" y2="317.90" stroke="#000" stroke-width="1.2"/>
<line x1="401.45" y1="314.90" x2="401.45" y2="320.70" stroke="#000" stroke-width="1.6"/>
<line x1="414.11" y1="314.90" x2="414.11" y2="317.90" stroke="#000" stroke-width="1.2"/>
<line x1="421.51" y1="314.90" x2="421.51" y2="317.90" stroke="#000" stroke-width="1.2"/>
<line x1="426.77" y1="314.90" x2="426.77" y2="317.90" stroke="#000" stroke-width="1.2"/>
<line x1="430.84" y1="314.90" x2="430.84" y2="317.90" stroke="#000" stroke-width="1.2"/>
<line x1="434.17" y1="314.90" x2="434.17" y2="317.90" stroke="#000" stroke-width="1.2"/>
<line x1="436.99" y1="314.90" x2="436.99" y2="317.90" stroke="#000" stroke-width="1.2"/>
<line x1="439.42" y1="314.90" x2="439.42" y2="317.90" stroke="#000" stroke-width="1.2"/>
<line x1="441.58" y1="314.90" x2="441.58" y2="317.90" stroke="#000" stroke-width="1.2"/>
<line x1="443.50" y1="314.90" x2="443.50" y2="320.70" stroke="#000" stroke-width="1.6"/>
<text x="270.70" y="327.80" font-family='"Liberation Sans", sans-serif' font-size="7.6" font-weight="bold" text-anchor="start">10<tspan font-size="4.6" dy="-2.8">0</tspan></text>
<text x="312.75" y="327.80" font-family='"Liberation Sans", sans-serif' font-size="7.6" font-weight="bold" text-anchor="start">10<tspan font-size="4.6" dy="-2.8">1</tspan></text>
<text x="354.80" y="327.80" font-family='"Liberation Sans", sans-serif' font-size="7.6" font-weight="bold" text-anchor="start">10<tspan font-size="4.6" dy="-2.8">2</tspan></text>
<text x="396.85" y="327.80" font-family='"Liberation Sans", sans-serif' font-size="7.6" font-weight="bold" text-anchor="start">10<tspan font-size="4.6" dy="-2.8">3</tspan></text>
<text x="438.90" y="327.80" font-family='"Liberation Sans", sans-serif' font-size="7.6" font-weight="bold" text-anchor="start">10<tspan font-size="4.6" dy="-2.8">4</tspan></text>
<text x="328.80" y="211.50" font-family='"Liberation Sans", sans-serif' font-size="12" font-weight="bold" text-anchor="start" >OVA-Exo</text>
<text transform="translate(268.80,223.00) rotate(-90)" font-family='"Liberation Sans", sans-serif' font-size="6.6" font-weight="bold" text-anchor="middle">50</text>
<text transform="translate(268.80,314.30) rotate(-90)" font-family='"Liberation Sans", sans-serif' font-size="6.6" font-weight="bold" text-anchor="middle">0</text>
<text transform="translate(263.70,268.70) rotate(-90)" font-family='"Liberation Sans", sans-serif' font-size="10.2" text-anchor="middle">Count</text>
<text x="361.40" y="338.60" font-family='"Liberation Sans", sans-serif' font-size="9.6" text-anchor="middle">CFSE</text>
<text transform="translate(9.1,95.7) rotate(-90) scale(1,1.13)" font-family='"Liberation Sans", sans-serif' font-size="7.7" font-weight="bold" text-anchor="middle">% proliferating cells</text>
<text transform="translate(277.3,96.3) rotate(-90)" font-family='"Liberation Sans", sans-serif' font-size="9.1" font-weight="bold" text-anchor="middle">% proliferating cells</text>
</svg></body></html>
